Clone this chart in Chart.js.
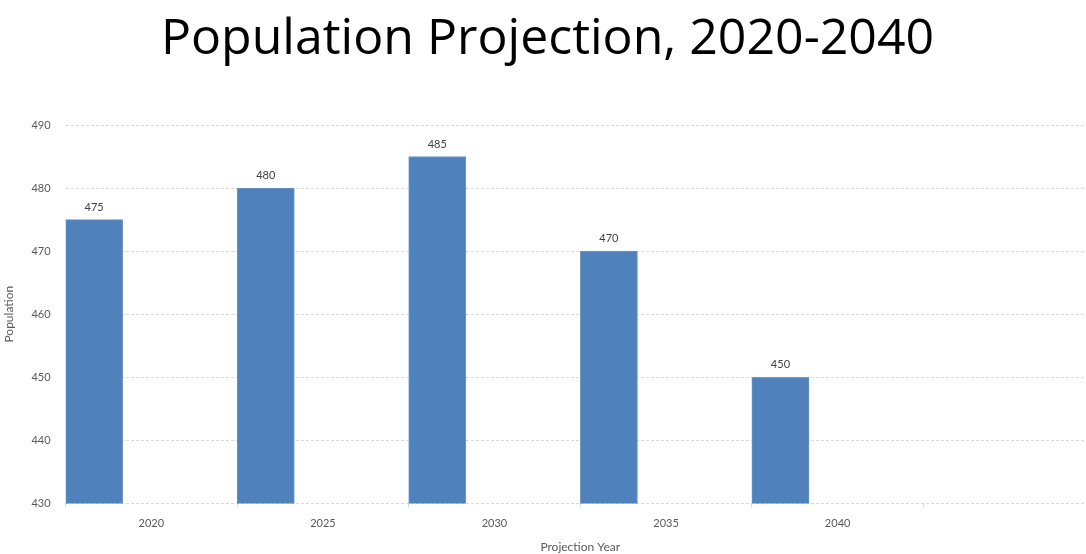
<!DOCTYPE html>
<html>
<head>
<meta charset="utf-8">
<script src="https://cdn.jsdelivr.net/npm/chart.js@4/dist/chart.umd.min.js"></script>
<style>
  html, body { margin: 0; padding: 0; background: #fff; overflow: hidden; }
  /* the empty last slot runs a little past the window's right edge */
  #wrap { width: 1095px; height: 554px; }
</style>
</head>
<body>
<div id="wrap"><canvas id="popChart"></canvas></div>
<script>
const years = ['2020', '2025', '2030', '2035', '2040', ''];
const population = [475, 480, 485, 470, 450, null];
const yTicks = [430, 440, 450, 460, 470, 480, 490];

const FONT = 'Lato, "Open Sans", sans-serif';
const TITLE_FONT = '"Open Sans", "Noto Sans", sans-serif';

// writes the value above each bar of the first dataset
const barValuePlugin = {
  id: 'barValue',
  afterDatasetsDraw(chart) {
    const ctx = chart.ctx;
    const meta = chart.getDatasetMeta(0);
    ctx.save();
    ctx.font = '11px ' + FONT;
    ctx.fillStyle = '#404040';
    ctx.textAlign = 'center';
    ctx.textBaseline = 'bottom';
    meta.data.forEach((bar, i) => {
      const v = population[i];
      if (v == null) return;
      ctx.fillText(String(v), bar.x, bar.y - 7);
    });
    ctx.restore();
  },
};

Chart.register(barValuePlugin);

const ctx = document.getElementById('popChart').getContext('2d');
const chart = new Chart(ctx, {
  type: 'bar',
  data: {
    labels: years,
    datasets: [
      {
        label: 'Population',
        data: population,
        backgroundColor: '#4f81bd',
        borderColor: '#6f97c8',
        borderWidth: 1,
        barPercentage: 1,
        categoryPercentage: 1,
      },
      // two empty series keep the bar in the left third of each slot
      { label: '', data: [], barPercentage: 1, categoryPercentage: 1 },
      { label: '', data: [], barPercentage: 1, categoryPercentage: 1 },
    ],
  },
  options: {
    responsive: true,
    maintainAspectRatio: false,
    animation: false,
    layout: { padding: { left: 0, right: 0, top: 0, bottom: 0 } },
    plugins: {
      legend: { display: false },
      tooltip: { enabled: false },
      title: {
        display: true,
        text: 'Population Projection, 2020-2040',
        color: '#000',
        font: { family: TITLE_FONT, size: 50, weight: 'normal' },
        padding: { top: 10, bottom: 55 },
      },
    },
    scales: {
      x: {
        grid: {
          drawOnChartArea: false,
          drawTicks: true,
          tickLength: 4,
          color: '#d9d9d9',
          offset: true,
        },
        border: { display: false },
        ticks: { color: '#595959', font: { family: FONT, size: 11 }, padding: 9 },
        title: {
          display: true,
          text: 'Projection Year',
          color: '#595959',
          font: { family: FONT, size: 12 },
          padding: { top: 1, bottom: 0 },
        },
      },
      y: {
        min: yTicks[0],
        max: yTicks[yTicks.length - 1],
        afterBuildTicks: (axis) => {
          axis.ticks = yTicks.map((v) => ({ value: v }));
        },
        grid: {
          color: '#d9d9d9',
          drawTicks: false,
        },
        border: { display: false, dash: [3, 2] },
        ticks: { color: '#595959', font: { family: FONT, size: 11 }, padding: 15 },
        title: {
          display: true,
          text: 'Population',
          color: '#595959',
          font: { family: FONT, size: 12 },
          padding: { top: 2, bottom: 0 },
        },
      },
    },
  },
});
</script>
</body>
</html>
